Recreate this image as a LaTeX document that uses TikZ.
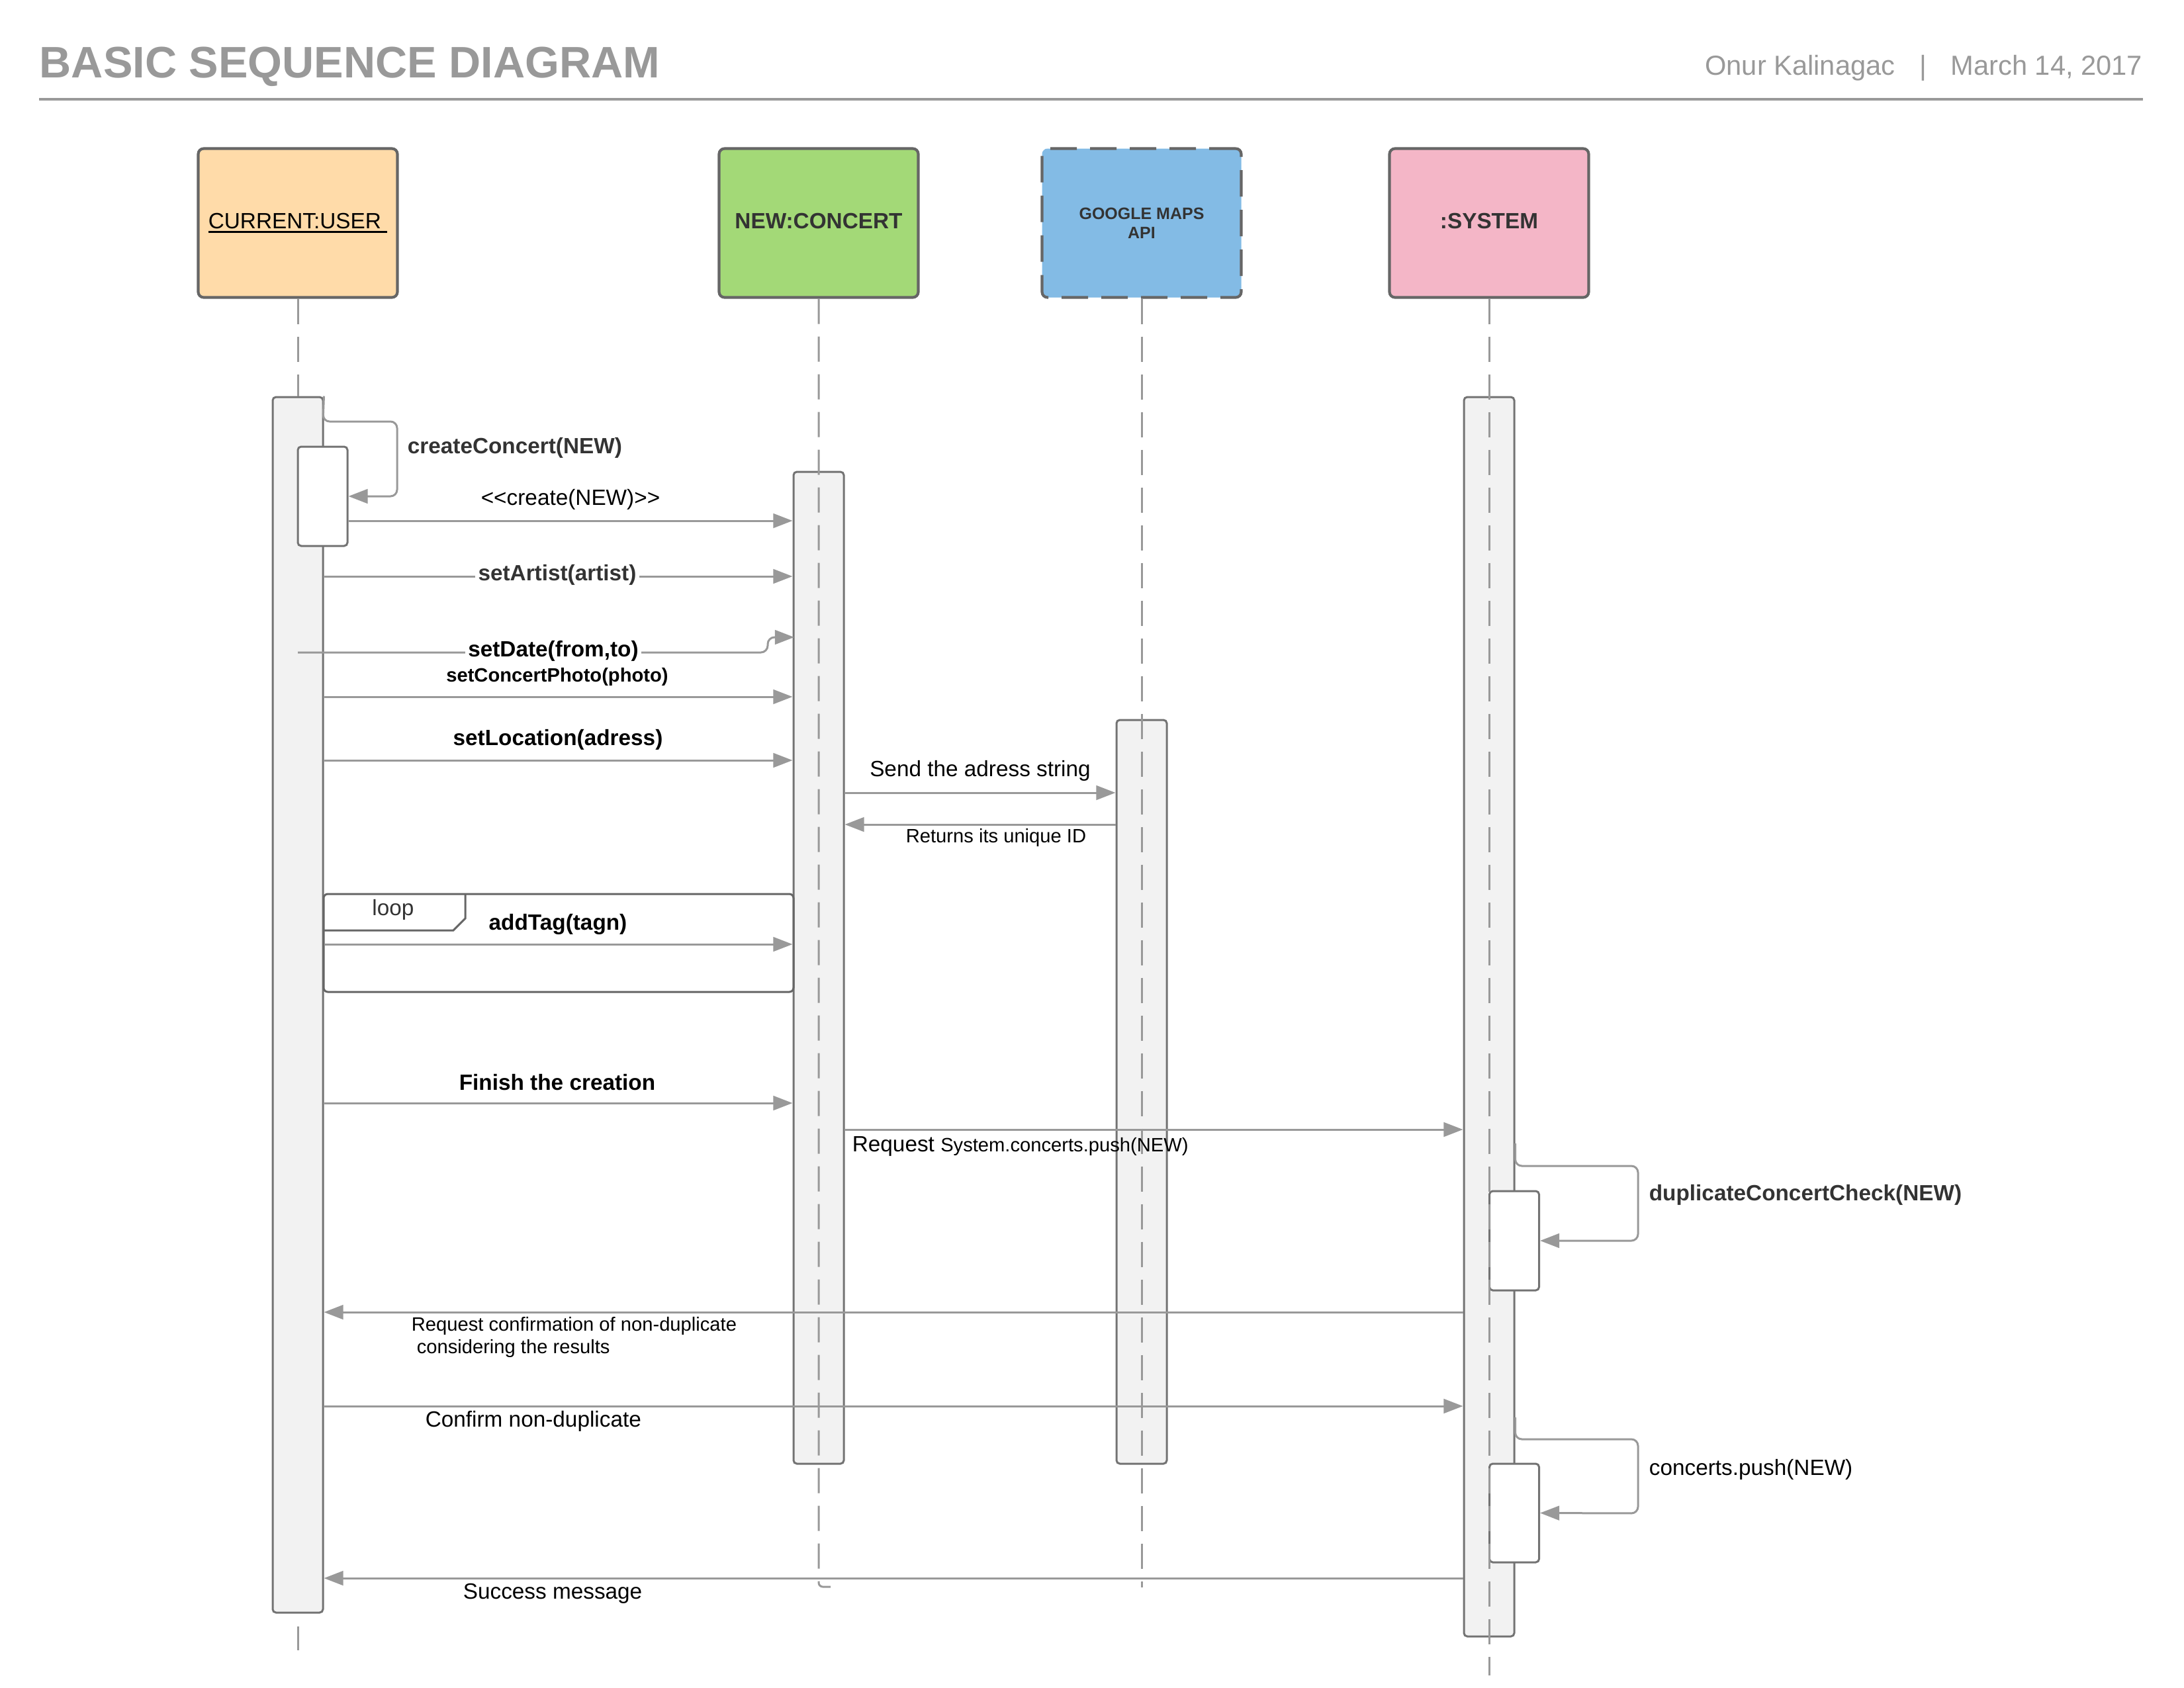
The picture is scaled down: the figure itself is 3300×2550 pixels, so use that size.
\documentclass[tikz,border=0pt]{standalone}
\usepackage{fontspec}
\setmainfont{Liberation Sans}
\usetikzlibrary{arrows.meta}
\definecolor{titlegray}{HTML}{999999}
\definecolor{boxline}{HTML}{666666}
\definecolor{barline}{HTML}{737373}
\definecolor{barfill}{HTML}{F2F2F2}
\definecolor{conn}{HTML}{999999}
\definecolor{txt}{HTML}{333333}
\definecolor{userfill}{HTML}{FFDBA9}
\definecolor{concfill}{HTML}{A3D977}
\definecolor{gmfill}{HTML}{83BBE5}
\definecolor{sysfill}{HTML}{F4B6C7}
\newcommand\szsixteen{\fontsize{16}{19}\selectfont}
\newcommand\szten{\fontsize{10}{12}\selectfont}
\newcommand\szeight{\fontsize{8}{9.6}\selectfont}
\newcommand\szseven{\fontsize{7}{8.2}\selectfont}
\newcommand\szsix{\fontsize{6}{7}\selectfont}
\newsavebox\ulbox
\newcommand\thickul[1]{\sbox\ulbox{#1}\rlap{\usebox\ulbox}\rule[-1.4pt]{\wd\ulbox}{0.6pt}}
\begin{document}
\begin{tikzpicture}[x=0.24pt,y=-0.24pt,
  hdr/.style={draw=boxline, line width=1pt, rounded corners=2pt, minimum width=72.24pt, minimum height=54pt, inner sep=0pt, align=center, text=txt, font=\bfseries\szeight},
  barbox/.style={draw=barline, fill=barfill, line width=0.72pt, rounded corners=1.2pt, inner sep=0pt, minimum width=18.24pt},
  nestbox/.style={barbox, fill=white, minimum width=18pt},
  life/.style={draw=conn, line width=0.72pt, dash pattern=on 9.12pt off 4.56pt},
  msg/.style={draw=conn, line width=0.72pt, -{Triangle[length=7pt,width=5.2pt]}},
  selfmsg/.style={msg, rounded corners=2.4pt},
  lbl/.style={inner sep=0pt, font=\szeight, text=black},
  blbl/.style={inner sep=0pt, font=\bfseries\szeight, text=black},
  frameline/.style={draw=boxline, line width=0.72pt}
]
\useasboundingbox (0,0) rectangle (3300,2550);

% header
\node[anchor=base west, inner sep=0pt, font=\bfseries\szsixteen, text=titlegray] (title) at (59,117) {BASIC SEQUENCE DIAGRAM};
\node[anchor=base east, inner sep=0pt, font=\szten, text=titlegray] (author) at (3238,113) {Onur Kalinagac\hspace{8.8pt}|\hspace{8.8pt}March 14, 2017};
\draw[draw=titlegray, line width=0.96pt] (59,150) -- (3238,150);

% participants
\node[hdr, fill=userfill, font=\szeight, text=black] (user) at (450,337) {\raisebox{1.4pt}{\thickul{CURRENT:USER\ }}};
\node[hdr, fill=concfill] (concert) at (1237,337) {\raisebox{1.6pt}{NEW:CONCERT}};
\node[hdr, fill=gmfill, dash pattern=on 9.6pt off 4.8pt, font=\bfseries\szsix] (google) at (1725,337) {GOOGLE MAPS\\API};
\node[hdr, fill=sysfill] (system) at (2250,337) {\raisebox{1.6pt}{:SYSTEM}};

% activation bars
\node[barbox, minimum height=440.88pt] (ubar) at (450,1518.5) {};
\node[barbox, minimum height=359.76pt] (cbar) at (1237,1462.5) {};
\node[barbox, minimum height=269.76pt] (gbar) at (1725,1650) {};
\node[barbox, minimum height=449.52pt] (sbar) at (2250,1536.5) {};
\node[nestbox, minimum height=36pt] (unest) at (487.5,750) {};
\node[nestbox, minimum height=36pt] (snest1) at (2288,1875) {};
\node[nestbox, minimum height=35.76pt] (snest2) at (2288,2286.5) {};

% lifelines
\coordinate (uend) at (450,2494);
\coordinate (cend) at (1237,2398);
\coordinate (chook) at (1255,2398);
\coordinate (gend) at (1725,2399);
\coordinate (send) at (2250,2532);
\draw[life] (user.south) -- (ubar.north);
\draw[life, dash phase=9.12pt] (ubar.south) -- (uend);
\draw[life, rounded corners=1.5pt] (concert.south) -- (cend) -- (chook);
\draw[life] (google.south) -- (gend);
\draw[life] (system.south) -- (send);

% message levels
\coordinate (ycr) at (0,787);
\coordinate (yart) at (0,871);
\coordinate (ydate) at (0,986);
\coordinate (yphoto) at (0,1053);
\coordinate (yloc) at (0,1149);
\coordinate (ysend) at (0,1198);
\coordinate (yret) at (0,1246);
\coordinate (ytag) at (0,1427);
\coordinate (yfin) at (0,1667);
\coordinate (yreq) at (0,1707);
\coordinate (yconf) at (0,1983);
\coordinate (yok) at (0,2125);
\coordinate (ysucc) at (0,2385);
\coordinate (yd1) at (0,1728);
\coordinate (yd2) at (0,1762);
\coordinate (yp1) at (0,2142);
\coordinate (yp2) at (0,2175);

% loop frame
\draw[frameline, rounded corners=1.5pt] (489,1351) rectangle (1199,1499);
\draw[frameline] (489,1406) -- (685,1406) -- (703,1388) -- (703,1351);
\node[lbl, text=txt] (looplbl) at (594,1375) {loop};

% messages
\draw[selfmsg] (ubar.north east) -- (488,637) -- (600,637) -- (600,750) -- (unest.east);
\node[blbl, anchor=west, text=txt] (lcc) at (615,677) {createConcert(NEW)};

\draw[msg] (unest.east |- ycr) -- (cbar.west |- ycr);
\node[lbl] (lcr) at (862,755) {<{}<create(NEW)>{}>};

\draw[msg] (ubar.east |- yart) -- (cbar.west |- yart);
\node[blbl, text=txt, fill=white, inner xsep=1pt] (lart) at (842,869) {setArtist(artist)};

\draw[msg, rounded corners=2.5pt] (ubar.center |- ydate) -- (1160,986) -- (1160,963) -- (1200,963);
\node[blbl, fill=white, inner xsep=1pt] (ldate) at (836,984) {setDate(from,to)};

\node[blbl, font=\bfseries\szseven] (lphoto) at (842,1023) {setConcertPhoto(photo)};
\draw[msg] (ubar.east |- yphoto) -- (cbar.west |- yphoto);

\node[blbl] (lloc) at (843,1118) {setLocation(adress)};
\draw[msg] (ubar.east |- yloc) -- (cbar.west |- yloc);

\node[lbl] (lsend) at (1481,1165) {Send the adress string};
\draw[msg] (cbar.east |- ysend) -- (gbar.west |- ysend);

\draw[msg] (gbar.west |- yret) -- (cbar.east |- yret);
\node[lbl, font=\szseven] (lret) at (1505,1266) {Returns its unique ID};

\node[blbl] (ltag) at (843,1397) {addTag(tagn)};
\draw[msg] (ubar.east |- ytag) -- (cbar.west |- ytag);

\node[blbl] (lfin) at (842,1636) {Finish the creation};
\draw[msg] (ubar.east |- yfin) -- (cbar.west |- yfin);

\draw[msg] (cbar.east |- yreq) -- (sbar.west |- yreq);
\node[lbl, anchor=west] (lreq) at (1287,1732) {Request {\szseven System.concerts.push(NEW)}};

\draw[selfmsg] (sbar.east |- yd1) -- (sbar.east |- yd2) -- (2475,1762) -- (2475,1875) -- (snest1.east);
\node[blbl, anchor=west, text=txt] (ldup) at (2491,1806) {duplicateConcertCheck(NEW)};

\draw[msg] (sbar.west |- yconf) -- (ubar.east |- yconf);
\node[lbl, font=\szseven, anchor=west, align=left] (lconf) at (621,2021) {Request confirmation of non-duplicate\\\hspace{1.9pt}considering the results};

\draw[msg] (ubar.east |- yok) -- (sbar.west |- yok);
\node[lbl, anchor=west] (lok) at (642,2148) {Confirm non-duplicate};

\draw[selfmsg] (sbar.east |- yp1) -- (sbar.east |- yp2) -- (2475,2175) -- (2475,2287) -- (snest2.east);
\node[lbl, anchor=west] (lpush) at (2491,2221) {concerts.push(NEW)};

\draw[msg] (sbar.west |- ysucc) -- (ubar.east |- ysucc);
\node[lbl, anchor=west] (lsucc) at (699,2408) {Success message};
\end{tikzpicture}
\end{document}
